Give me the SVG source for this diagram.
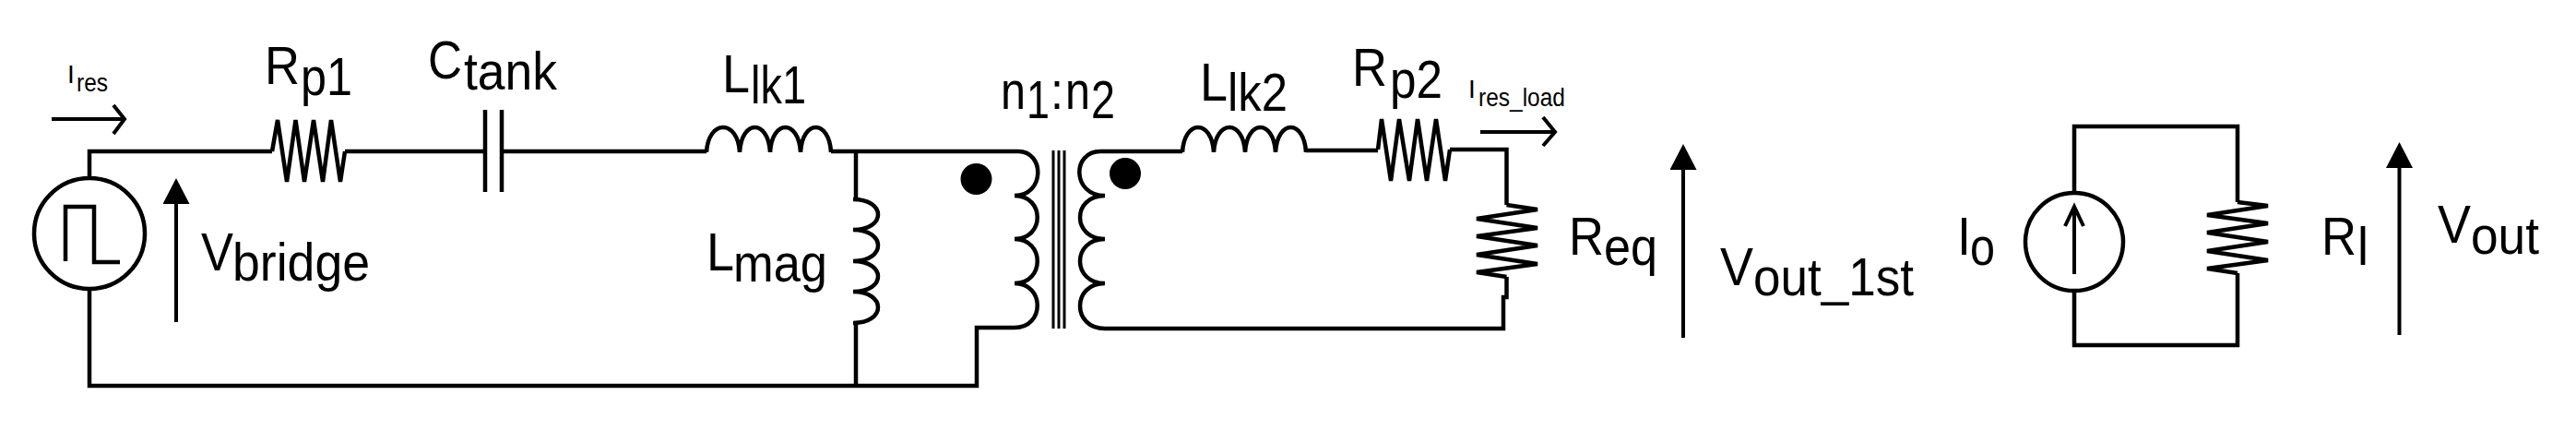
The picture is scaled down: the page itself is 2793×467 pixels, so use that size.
<svg xmlns="http://www.w3.org/2000/svg" width="2793" height="467" viewBox="0 0 2793 467">
<style>
.w{fill:none;stroke:#000;stroke-width:4.5;stroke-linejoin:miter}
.thin{fill:none;stroke:#000;stroke-width:3}
.a{fill:none;stroke:#000;stroke-width:4}
text{font-family:"Liberation Sans",Arial,sans-serif;font-size:57px;fill:#000}
.s{font-size:28px}
.ss{font-size:27px}
</style>
<defs>
<marker id="h" markerUnits="userSpaceOnUse" markerWidth="30" markerHeight="30" refX="5" refY="14.5" orient="auto"><path d="M0 0L28 14.5L0 29Z" fill="#000"/></marker>
</defs>
<rect width="2793" height="467" fill="#fff"/>
<g id="connectors">
<path class="w" d="M97 193V164H295M374 164H526M544 164H766M901 164H1104M1100 355H1059V418H97V313"/>
<path class="w" d="M928 164V216M928 350V418"/>
<path class="w" d="M1193 164H1282M1416 163H1494M1572 162H1633.5V222M1633.5 300V322H1630V356H1198"/>
<path class="w" d="M2249 208V137H2426V219M2426 296V374H2249V315"/>
</g>
<g id="source"><circle class="w" cx="97" cy="253" r="60"/><path class="w" d="M71 283V224H102V284H130"/></g>
<g id="i-res"><path class="a" d="M56 129H135M123 114L135 129L123 145"/><text class="s" x="73" y="90">I</text><text class="ss" x="83" y="99" textLength="34" lengthAdjust="spacingAndGlyphs">res</text></g>
<g id="v-bridge"><path class="a" d="M191 349V216" marker-end="url(#h)"/><text x="218" y="293" textLength="35" lengthAdjust="spacingAndGlyphs">V</text><text x="252" y="304" textLength="149" lengthAdjust="spacingAndGlyphs">bridge</text></g>
<g id="rp1"><path class="w" d="M295 164L301 130L311 197L320.500 130L330 197L340 130L350 197L359 130L369 197L374 164"/><text x="287" y="91" textLength="38" lengthAdjust="spacingAndGlyphs">R</text><text x="326" y="103" textLength="56" lengthAdjust="spacingAndGlyphs">p1</text></g>
<g id="ctank"><path class="w" d="M526 119V208M544 119V208"/><text x="464" y="85" textLength="37" lengthAdjust="spacingAndGlyphs">C</text><text x="503" y="97" textLength="101" lengthAdjust="spacingAndGlyphs">tank</text></g>
<g id="llk1"><path class="w" d="M766 165C768 129 800 129 802 165C804 129 833 129 835 165C837 129 866 129 868 165C870 129 899 129 901 165"/><text x="783" y="100" textLength="30" lengthAdjust="spacingAndGlyphs">L</text><text x="814" y="112" textLength="60" lengthAdjust="spacingAndGlyphs">lk1</text></g>
<g id="lmag"><path class="w" d="M925 216C961 216 961 249 925 249C961 249 961 283 925 283C961 283 961 316 925 316C961 316 961 350 925 350"/><text x="766" y="293" textLength="30" lengthAdjust="spacingAndGlyphs">L</text><text x="795" y="305" textLength="102" lengthAdjust="spacingAndGlyphs">mag</text></g>
<g id="transformer">
<path class="w" d="M1104 164C1133 164 1133 212 1100 212C1133 212 1133 259 1100 259C1133 259 1133 307 1100 307C1133 307 1133 355 1100 355"/>
<path class="thin" d="M1142 163V356M1148 163V356M1154 163V356"/>
<path class="w" d="M1193 164C1162 164 1162 212 1198 212C1162 212 1162 259 1198 259C1162 259 1162 307 1198 307C1162 307 1162 356 1198 356"/>
<circle cx="1058.500" cy="194" r="17"/><circle cx="1220" cy="188" r="17"/>
<text x="1085" y="118" textLength="27" lengthAdjust="spacingAndGlyphs">n</text><text x="1113" y="128" textLength="25" lengthAdjust="spacingAndGlyphs">1</text><text x="1139" y="118" textLength="14" lengthAdjust="spacingAndGlyphs">:</text><text x="1155" y="118" textLength="27" lengthAdjust="spacingAndGlyphs">n</text><text x="1183" y="128" textLength="26" lengthAdjust="spacingAndGlyphs">2</text>
</g>
<g id="llk2"><path class="w" d="M1282 165C1284 129 1314 129 1316 165C1318 129 1348 129 1350 165C1352 129 1381 129 1383 165C1385 129 1414 129 1416 165"/><text x="1301" y="109" textLength="30" lengthAdjust="spacingAndGlyphs">L</text><text x="1331" y="120" textLength="65" lengthAdjust="spacingAndGlyphs">lk2</text></g>
<g id="rp2"><path class="w" d="M1494 162L1498 129L1508 196L1517 129L1528 196L1537 129L1547 196L1557 129L1567 196L1572 162"/><text x="1466" y="93" textLength="38" lengthAdjust="spacingAndGlyphs">R</text><text x="1507" y="106" textLength="57" lengthAdjust="spacingAndGlyphs">p2</text></g>
<g id="i-res-load"><path class="a" d="M1605 143H1686M1673 127L1686 143L1673 158"/><text class="s" x="1592" y="106">I</text><text class="ss" x="1603" y="115" textLength="94" lengthAdjust="spacingAndGlyphs">res_load</text></g>
<g id="req"><path class="w" d="M1633.500 222L1667 227L1601 237L1667 247L1601 256L1667 266L1601 276L1667 286L1601 295L1633.500 300"/><text x="1701" y="276" textLength="38" lengthAdjust="spacingAndGlyphs">R</text><text x="1739" y="287" textLength="58" lengthAdjust="spacingAndGlyphs">eq</text></g>
<g id="v-out-1st"><path class="a" d="M1825 366V179" marker-end="url(#h)"/><text x="1865" y="309" textLength="36" lengthAdjust="spacingAndGlyphs">V</text><text x="1901" y="320" textLength="174" lengthAdjust="spacingAndGlyphs">out_1st</text></g>
<g id="io"><circle class="w" cx="2249" cy="262" r="53"/><path class="a" d="M2249 297V226M2239 245L2249 224L2259 245"/><text x="2122" y="276" textLength="15" lengthAdjust="spacingAndGlyphs">I</text><text x="2136" y="287" textLength="27" lengthAdjust="spacingAndGlyphs">o</text></g>
<g id="rl"><path class="w" d="M2426 219L2459 223L2393 233L2459 242L2393 252L2459 262L2393 272L2459 282L2393 291L2426 296"/><text x="2517" y="276" textLength="38" lengthAdjust="spacingAndGlyphs">R</text><text x="2556" y="287" textLength="12" lengthAdjust="spacingAndGlyphs">l</text></g>
<g id="v-out"><path class="a" d="M2601.500 363V177" marker-end="url(#h)"/><text x="2643" y="263" textLength="36" lengthAdjust="spacingAndGlyphs">V</text><text x="2679" y="275" textLength="74" lengthAdjust="spacingAndGlyphs">out</text></g>
</svg>
